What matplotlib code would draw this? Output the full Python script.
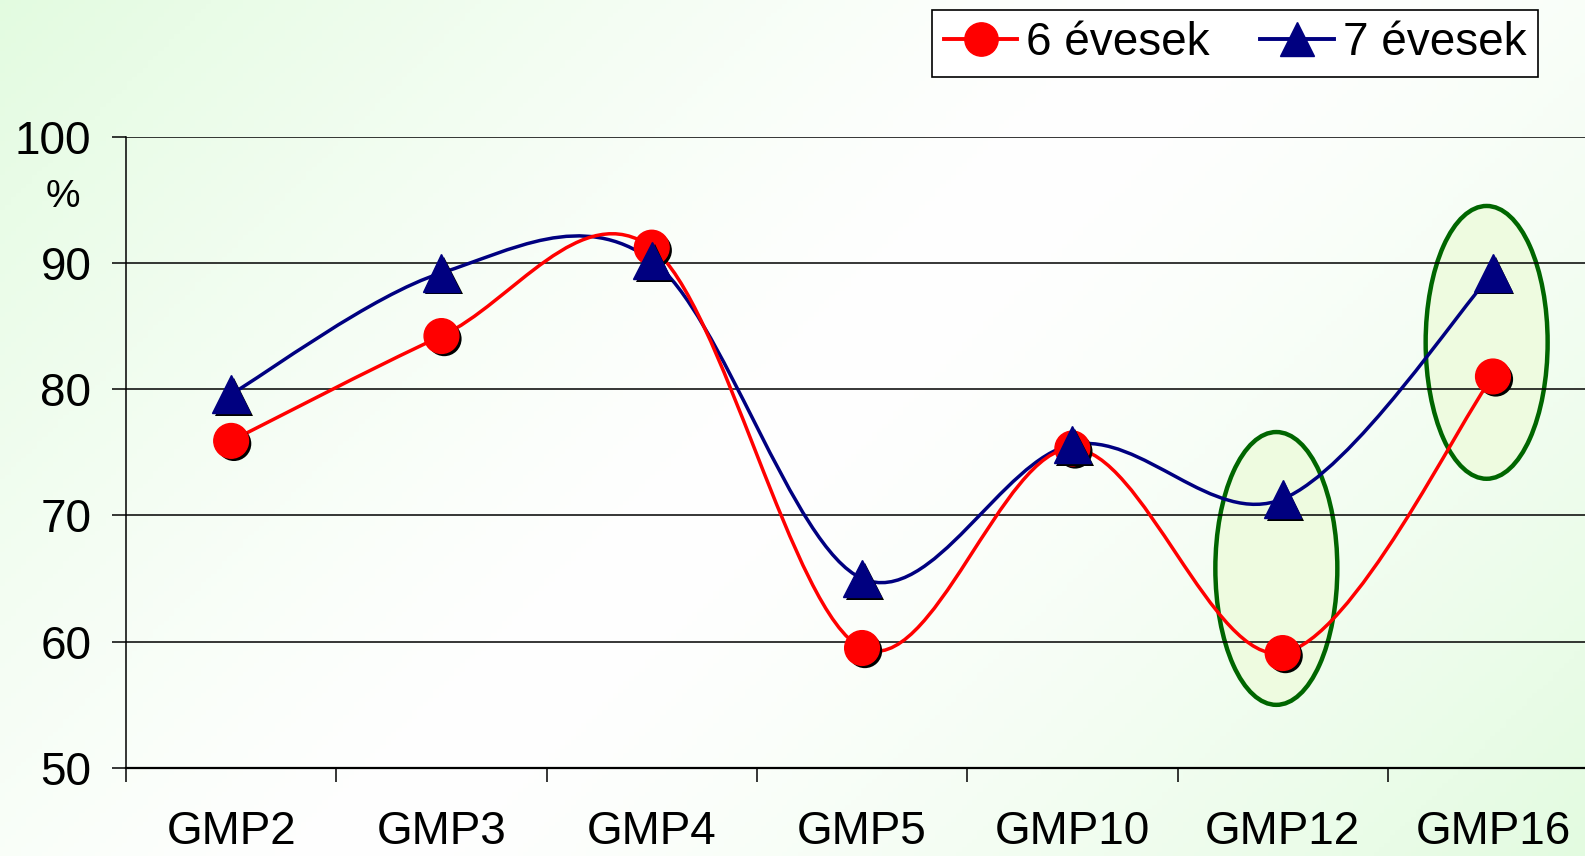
import numpy as np
import matplotlib
matplotlib.use("Agg")
import matplotlib.pyplot as plt
from matplotlib.path import Path
from matplotlib.patches import PathPatch, Ellipse
from matplotlib.lines import Line2D
import matplotlib.patheffects as pe

categories = ["GMP2", "GMP3", "GMP4", "GMP5", "GMP10", "GMP12", "GMP16"]
six_year = [75.9, 84.2, 91.2, 59.5, 75.3, 59.1, 81.0]
seven_year = [79.6, 89.2, 90.2, 65.0, 75.6, 71.3, 89.2]
series_labels = ["6 évesek", "7 évesek"]
y_ticks = [50, 60, 70, 80, 90, 100]
highlighted = ["GMP12", "GMP16"]
highlight_centers = [65.8, 83.7]

plt.rcParams['font.family'] = ['Liberation Sans', 'DejaVu Sans']

W, H = 1585, 856
fig = plt.figure(figsize=(W / 100, H / 100), dpi=100)

# background gradient
bg = fig.add_axes([0, 0, 1, 1], zorder=-10)
yy, xx = np.mgrid[0:1:200j, 0:1:300j]
d = (xx * W + yy * H) / (W + H)
t = np.abs(d - 0.5) * 2
t = np.clip(t, 0, 1) ** 1.3
c_end = np.array([0.89, 0.985, 0.88])
c_mid = np.array([1.0, 1.0, 1.0])
img = c_mid[None, None, :] * (1 - t[..., None]) + c_end[None, None, :] * t[..., None]
bg.imshow(img, aspect='auto', extent=[0, 1, 1, 0])
bg.axis('off')

cw = 210.3 / W
ax = fig.add_axes([126 / W, 1 - 768 / H, 7 * cw, (768 - 136.5) / H])
ax.patch.set_alpha(0)
x = np.arange(len(categories))
ax.set_xlim(-0.5, len(categories) - 0.5)
ax.set_ylim(50, 100)


def smooth_path(xs, ys):
    P = np.column_stack([xs, ys]).astype(float)
    n = len(P)
    verts = [P[0]]
    codes = [Path.MOVETO]
    for i in range(n - 1):
        p0 = P[i - 1] if i > 0 else P[i]
        p1 = P[i]
        p2 = P[i + 1]
        p3 = P[i + 2] if i + 2 < n else P[i + 1]
        verts += [p1 + (p2 - p0) / 6, p2 - (p3 - p1) / 6, p2]
        codes += [Path.CURVE4] * 3
    return Path(verts, codes)


# highlight ellipses
for cat, cy in zip(highlighted, highlight_centers):
    i = categories.index(cat)
    e = Ellipse((i - 0.03, cy), 0.58, 21.6, facecolor='#eefbe0', edgecolor='#006600',
                lw=3.2, zorder=2)
    ax.add_patch(e)

# gridlines
for yv in y_ticks[1:]:
    ax.axhline(yv, color='black', lw=1.1, zorder=2.5)

red = '#ff0000'
navy = '#000080'
ax.add_patch(PathPatch(smooth_path(x, seven_year), fill=False, edgecolor=navy, lw=2.5, zorder=3))
ax.add_patch(PathPatch(smooth_path(x, six_year), fill=False, edgecolor=red, lw=2.5, zorder=3))

shadow = [pe.SimplePatchShadow(offset=(2, -2), shadow_rgbFace='black', alpha=1.0), pe.Normal()]
ax.plot(x, six_year, ls='none', marker='o', ms=25, color=red, mec=red, zorder=4,
        path_effects=shadow)
ax.plot(x, seven_year, ls='none', marker='^', ms=27, color=navy, mec=navy, zorder=5,
        path_effects=shadow)

# axes styling
for s in ['top', 'right']:
    ax.spines[s].set_visible(False)
ax.spines['left'].set_linewidth(1.1)
ax.spines['bottom'].set_linewidth(1.6)
ax.set_yticks(y_ticks)
ax.set_yticklabels([str(v) for v in y_ticks])
ax.tick_params(axis='y', direction='out', length=10, width=1.1, pad=15, labelsize=33)
ax.set_xticks(np.arange(len(categories) + 1) - 0.5)
ax.set_xticklabels([])
ax.tick_params(axis='x', which='major', direction='out', length=10, width=1.1)
ax.set_xticks(x, minor=True)
ax.set_xticklabels(categories, minor=True)
ax.tick_params(axis='x', which='minor', length=0, pad=30, labelsize=33)

ax.text(-0.043, 95.2, "%", transform=ax.get_yaxis_transform(), ha='center', va='center',
        fontsize=28)

handles = [
    Line2D([], [], color=red, lw=2.8, marker='o', ms=24, mec=red),
    Line2D([], [], color=navy, lw=2.8, marker='^', ms=25, mec=navy),
]
leg = fig.legend(handles, series_labels, loc='upper right', bbox_to_anchor=(1538 / W, 1 - 10 / H),
                 ncol=2, fontsize=33, frameon=True, fancybox=False, framealpha=1,
                 edgecolor='black', handlelength=1.6, handletextpad=0.2, columnspacing=1.1,
                 borderpad=0.25, borderaxespad=0)
leg.get_frame().set_linewidth(1.2)

fig.savefig("out.png", dpi=100)
